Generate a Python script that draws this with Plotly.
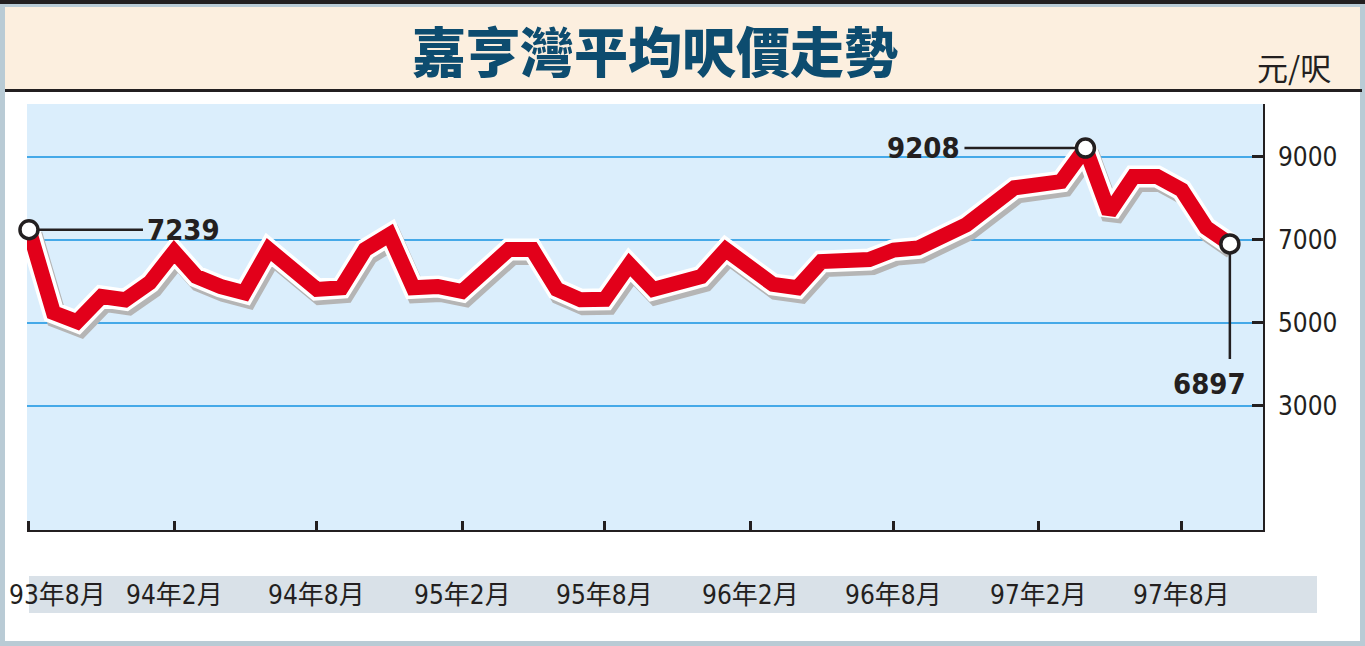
import numpy as np
import pandas as pd
import plotly.graph_objects as go

# ---------------- data ----------------
title_text = "嘉亨灣平均呎價走勢"
unit_label = "元/呎"

months = ["1993-08", "1993-09", "1993-10", "1993-11", "1993-12", "1994-01",
          "1994-02", "1994-03", "1994-04", "1994-05", "1994-06", "1994-08",
          "1994-09", "1994-10", "1994-11", "1994-12", "1995-01", "1995-02",
          "1995-04", "1995-05", "1995-06", "1995-07", "1995-08", "1995-09",
          "1995-10", "1995-12", "1996-01", "1996-03", "1996-04", "1996-05",
          "1996-07", "1996-08", "1996-09", "1996-11", "1997-01", "1997-03",
          "1997-04", "1997-05", "1997-06", "1997-07", "1997-08", "1997-09",
          "1997-10"]
prices = [7239, 5240, 5020, 5630, 5550, 5960,
          6710, 6110, 5870, 5720, 6760, 5800,
          5840, 6760, 7120, 5840, 5870, 5750,
          6760, 6760, 5800, 5550, 5560, 6400,
          5800, 6110, 6760, 5920, 5840, 6470,
          6520, 6750, 6800, 7360, 8250, 8400,
          9208, 7650, 8520, 8520, 8200, 7290,
          6897]

tick_months = ["1993-08", "1994-02", "1994-08", "1995-02", "1995-08",
               "1996-02", "1996-08", "1997-02", "1997-08"]
tick_labels = ["93年8月", "94年2月", "94年8月", "95年2月", "95年8月",
               "96年2月", "96年8月", "97年2月", "97年8月"]
y_ticks = [3000, 5000, 7000, 9000]

# ---------------- styling ----------------
W, H = 1365, 646
PL, PR, PT, PB = 27, 1263, 104, 530          # plot area in pixels
FRAME = "#b9cbd5"
DARK = "#231f20"
PEACH = "#fcefdf"
PLOTBG = "#dbeefc"
GRID = "#45a9e8"
RED = "#e2001a"
BAND = "#d9e1e8"
TITLE_COL = "#0d4c6f"
NUM_FONT = "Liberation Sans Narrow, DejaVu Sans Condensed, Noto Sans CJK TC, sans-serif"
CJK_FONT = "Noto Sans CJK TC, sans-serif"

XR = ["1993-07-29 12:00", "1997-11-12"]
XR_SHADOW = ["1993-07-25 12:00", "1997-11-08"]
YR = [0, 10270]
YR_SHADOW = [120, 10390]


def px_x(p):
    return (p - PL) / (PR - PL)


def px_y(p):
    return (PB - p) / (PB - PT)


dates = pd.to_datetime(months)
tick_dates = pd.to_datetime(tick_months)
vals = np.array(prices)
i_first, i_max, i_last = 0, int(np.argmax(vals)), len(vals) - 1
mark_idx = [i_first, i_max, i_last]

fig = go.Figure()
# shadow
fig.add_trace(go.Scatter(x=dates, y=vals, xaxis="x2", yaxis="y2", mode="lines",
                         line=dict(color="#b5b5b5", width=21), hoverinfo="skip"))
# white outline
fig.add_trace(go.Scatter(x=dates, y=vals, xaxis="x3", yaxis="y3", mode="lines",
                         line=dict(color="white", width=22), hoverinfo="skip"))
# red line
fig.add_trace(go.Scatter(x=dates, y=vals, xaxis="x3", yaxis="y3", mode="lines",
                         line=dict(color=RED, width=15)))
# circles
fig.add_trace(go.Scatter(x=dates[mark_idx], y=vals[mark_idx], xaxis="x3", yaxis="y3",
                         mode="markers", cliponaxis=False,
                         marker=dict(size=18, color="white",
                                     line=dict(color=DARK, width=3.5))))

shapes = [
    dict(type="rect", xref="paper", yref="paper", x0=px_x(0), x1=px_x(W),
         y0=px_y(H), y1=px_y(0), fillcolor=FRAME, line_width=0, layer="below"),
    dict(type="rect", xref="paper", yref="paper", x0=px_x(0), x1=px_x(W),
         y0=px_y(4), y1=px_y(0), fillcolor=DARK, line_width=0, layer="below"),
    dict(type="rect", xref="paper", yref="paper", x0=px_x(5), x1=px_x(1360),
         y0=px_y(641), y1=px_y(7), fillcolor="white", line_width=0, layer="below"),
    dict(type="rect", xref="paper", yref="paper", x0=px_x(5), x1=px_x(1360),
         y0=px_y(89), y1=px_y(7), fillcolor=PEACH, line_width=0, layer="below"),
    dict(type="rect", xref="paper", yref="paper", x0=px_x(5), x1=px_x(1362),
         y0=px_y(92), y1=px_y(89), fillcolor=DARK, line_width=0, layer="below"),
    dict(type="rect", xref="paper", yref="paper", x0=px_x(29), x1=px_x(1317),
         y0=px_y(613), y1=px_y(576), fillcolor=BAND, line_width=0, layer="below"),
    dict(type="rect", xref="paper", yref="paper", x0=0, x1=1,
         y0=0, y1=1, fillcolor=PLOTBG, line_width=0, layer="below"),
]

annotations = [
    dict(text=title_text, xref="paper", yref="paper", x=px_x(655), y=px_y(50),
         showarrow=False, xanchor="center", yanchor="middle",
         font=dict(family=CJK_FONT, size=54, color=TITLE_COL, weight=900)),
    dict(text=unit_label, xref="paper", yref="paper", x=px_x(1294), y=px_y(67),
         showarrow=False, xanchor="center", yanchor="middle",
         font=dict(family=CJK_FONT, size=31, color=DARK)),
]
# x tick labels inside the grey band
for k, (d, lab) in enumerate(zip(tick_dates, tick_labels)):
    annotations.append(dict(text=lab, x=d, xref="x", yref="paper", y=px_y(595),
                            showarrow=False, xanchor="center", yanchor="middle",
                            xshift=29 if k == 0 else 0,
                            font=dict(family=NUM_FONT, size=26, color=DARK)))

lab_font = dict(family=NUM_FONT, size=29, color=DARK, weight="bold")
# first value label (line to the right)
annotations.append(dict(text=f"{vals[i_first]}", x=dates[i_first], y=vals[i_first],
                        xref="x", yref="y", ax=155, ay=0, showarrow=True,
                        arrowhead=0, arrowwidth=2.5, arrowcolor=DARK, standoff=10,
                        borderpad=4, font=lab_font))
# max value label (line to the left)
annotations.append(dict(text=f"{vals[i_max]}", x=dates[i_max], y=vals[i_max],
                        xref="x", yref="y", ax=-162, ay=0, showarrow=True,
                        arrowhead=0, arrowwidth=2.5, arrowcolor=DARK, standoff=10,
                        borderpad=4, font=lab_font))
# last value label (vertical line down)
annotations.append(dict(text=" ", x=dates[i_last], y=vals[i_last],
                        xref="x", yref="y", ax=0, ay=118, showarrow=True,
                        arrowhead=0, arrowwidth=2.5, arrowcolor=DARK, standoff=10,
                        font=dict(size=2)))
annotations.append(dict(text=f"{vals[i_last]}", x=dates[i_last], y=vals[i_last],
                        xref="x", yref="y", showarrow=False, xshift=-20, yshift=-140,
                        xanchor="center", yanchor="middle", font=lab_font))

fig.update_layout(
    width=W, height=H,
    margin=dict(l=PL, r=W - PR, t=PT, b=H - PB, pad=0),
    paper_bgcolor="white", plot_bgcolor="rgba(0,0,0,0)",
    showlegend=False,
    shapes=shapes, annotations=annotations,
    xaxis=dict(type="date", range=XR, tickmode="array", tickvals=tick_dates,
               ticks="inside", ticklen=9, tickwidth=3, tickcolor=DARK,
               showticklabels=False, showgrid=False, zeroline=False,
               showline=True, linecolor=DARK, linewidth=1.5, fixedrange=True),
    yaxis=dict(range=YR, side="right", tickmode="array", tickvals=y_ticks,
               ticks="inside", ticklen=11, tickwidth=3, tickcolor=DARK,
               showline=True, linecolor=DARK, linewidth=1.5,
               showgrid=True, gridcolor=GRID, gridwidth=1.5, zeroline=False,
               tickfont=dict(family=NUM_FONT, size=26, color=DARK),
               ticklabelstandoff=8, fixedrange=True),
    xaxis2=dict(type="date", range=XR_SHADOW, overlaying="x", visible=False),
    yaxis2=dict(range=YR_SHADOW, overlaying="y", visible=False),
    xaxis3=dict(type="date", range=XR, overlaying="x", visible=False),
    yaxis3=dict(range=YR, overlaying="y", visible=False),
)

fig.write_html("out.html", config={"displayModeBar": False},
               post_script="document.body.style.margin='0';document.body.style.overflow='hidden';")
